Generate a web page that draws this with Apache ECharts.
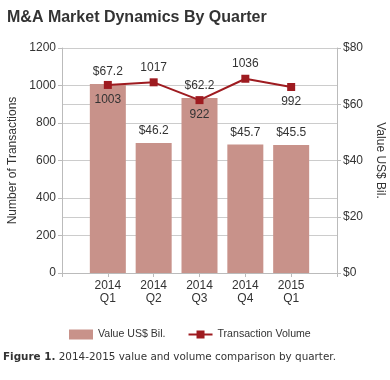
<!DOCTYPE html>
<html>
<head>
<meta charset="utf-8">
<script src="https://cdn.jsdelivr.net/npm/echarts@6/dist/echarts.min.js"></script>
<style>html,body{margin:0;padding:0;background:#fff;}#c{width:390px;height:380px;}</style>
</head>
<body>
<div id="c"></div>
<script>
var categories = ['2014\nQ1', '2014\nQ2', '2014\nQ3', '2014\nQ4', '2015\nQ1'];
var valueBil = [67.2, 46.2, 62.2, 45.7, 45.5];
var volume = [1003, 1017, 922, 1036, 992];
var leftTicks = {min: 0, max: 1200, interval: 200};
var rightTicks = {min: 0, max: 80, interval: 20};

var volLabelPos = ['bottom', 'top', 'bottom', 'top', 'bottom'];
var cats = [''].concat(categories).concat(['']);
var barData = ['-'].concat(valueBil).concat(['-']);
var lineData = [{value: '-'}].concat(volume.map(function (v, i) {
  return {value: v, label: {position: volLabelPos[i]}};
})).concat([{value: '-'}]);

var font = 'Liberation Sans, Arial, sans-serif';
var chart = echarts.init(document.getElementById('c'));
chart.setOption({
  animation: false,
  textStyle: {fontFamily: font},
  title: {
    text: 'M&A Market Dynamics By Quarter',
    left: 2, top: 5,
    textStyle: {fontFamily: font, fontSize: 16, fontWeight: 'bold', color: '#333'}
  },
  graphic: [{
    type: 'text', left: 3, top: 352,
    style: {
      text: '{b|Figure 1.} 2014-2015 value and volume comparison by quarter.',
      font: '10.4px DejaVu Sans', fill: '#333',
      rich: {b: {fontWeight: 'bold', fontFamily: 'DejaVu Sans', fontSize: 10.4, fill: '#333'}}
    }
  }],
  legend: {
    left: 64, top: 324, itemGap: 22,
    itemWidth: 24, itemHeight: 10,
    textStyle: {fontFamily: font, fontSize: 10.6, color: '#333'},
    data: [{name: 'Value US$ Bil.', icon: 'rect'}, {name: 'Transaction Volume'}]
  },
  grid: {left: 62, right: 53, top: 48, bottom: 107, containLabel: false, outerBoundsMode: 'none'},
  xAxis: {
    type: 'category', data: cats, boundaryGap: false,
    axisLine: {lineStyle: {color: '#bbb'}},
    axisTick: {length: 4, lineStyle: {color: '#bbb'}},
    axisLabel: {fontSize: 12, color: '#333', lineHeight: 13, interval: 0, margin: 6}
  },
  yAxis: [{
    type: 'value', min: leftTicks.min, max: leftTicks.max, interval: leftTicks.interval,
    name: 'Number of Transactions', nameLocation: 'middle', nameGap: 42,
    nameTextStyle: {fontSize: 12, color: '#333'},
    axisLine: {show: true, lineStyle: {color: '#bbb'}},
    axisTick: {show: true, length: 4, lineStyle: {color: '#bbb'}},
    axisLabel: {fontSize: 12, color: '#333', margin: 6, formatter: function (v) { return String(v); }},
    splitLine: {lineStyle: {color: '#ccc'}}
  }, {
    type: 'value', min: rightTicks.min, max: rightTicks.max, interval: rightTicks.interval,
    position: 'right',
    name: 'Value US$ Bil.', nameLocation: 'middle', nameGap: 32, nameRotate: -90,
    nameTextStyle: {fontSize: 12, color: '#333'},
    axisLine: {show: true, lineStyle: {color: '#bbb'}},
    axisTick: {show: true, length: 4, lineStyle: {color: '#bbb'}},
    axisLabel: {fontSize: 12, color: '#333', margin: 6, formatter: function (v) { return '$' + v; }},
    splitLine: {show: true, lineStyle: {color: '#ccc'}}
  }],
  series: [{
    name: 'Value US$ Bil.', type: 'bar', yAxisIndex: 1, data: barData,
    barWidth: 36,
    itemStyle: {color: '#c8928a'},
    label: {show: true, position: 'top', distance: 6, fontSize: 12, color: '#333',
      formatter: function (p) { return '$' + p.value.toFixed(1); }}
  }, {
    name: 'Transaction Volume', type: 'line', yAxisIndex: 0, data: lineData,
    symbol: 'rect', symbolSize: 8,
    lineStyle: {color: '#9e1b20', width: 2},
    itemStyle: {color: '#9e1b20'},
    label: {show: true, distance: 5, fontSize: 12, color: '#333'}
  }]
});
</script>
</body>
</html>
